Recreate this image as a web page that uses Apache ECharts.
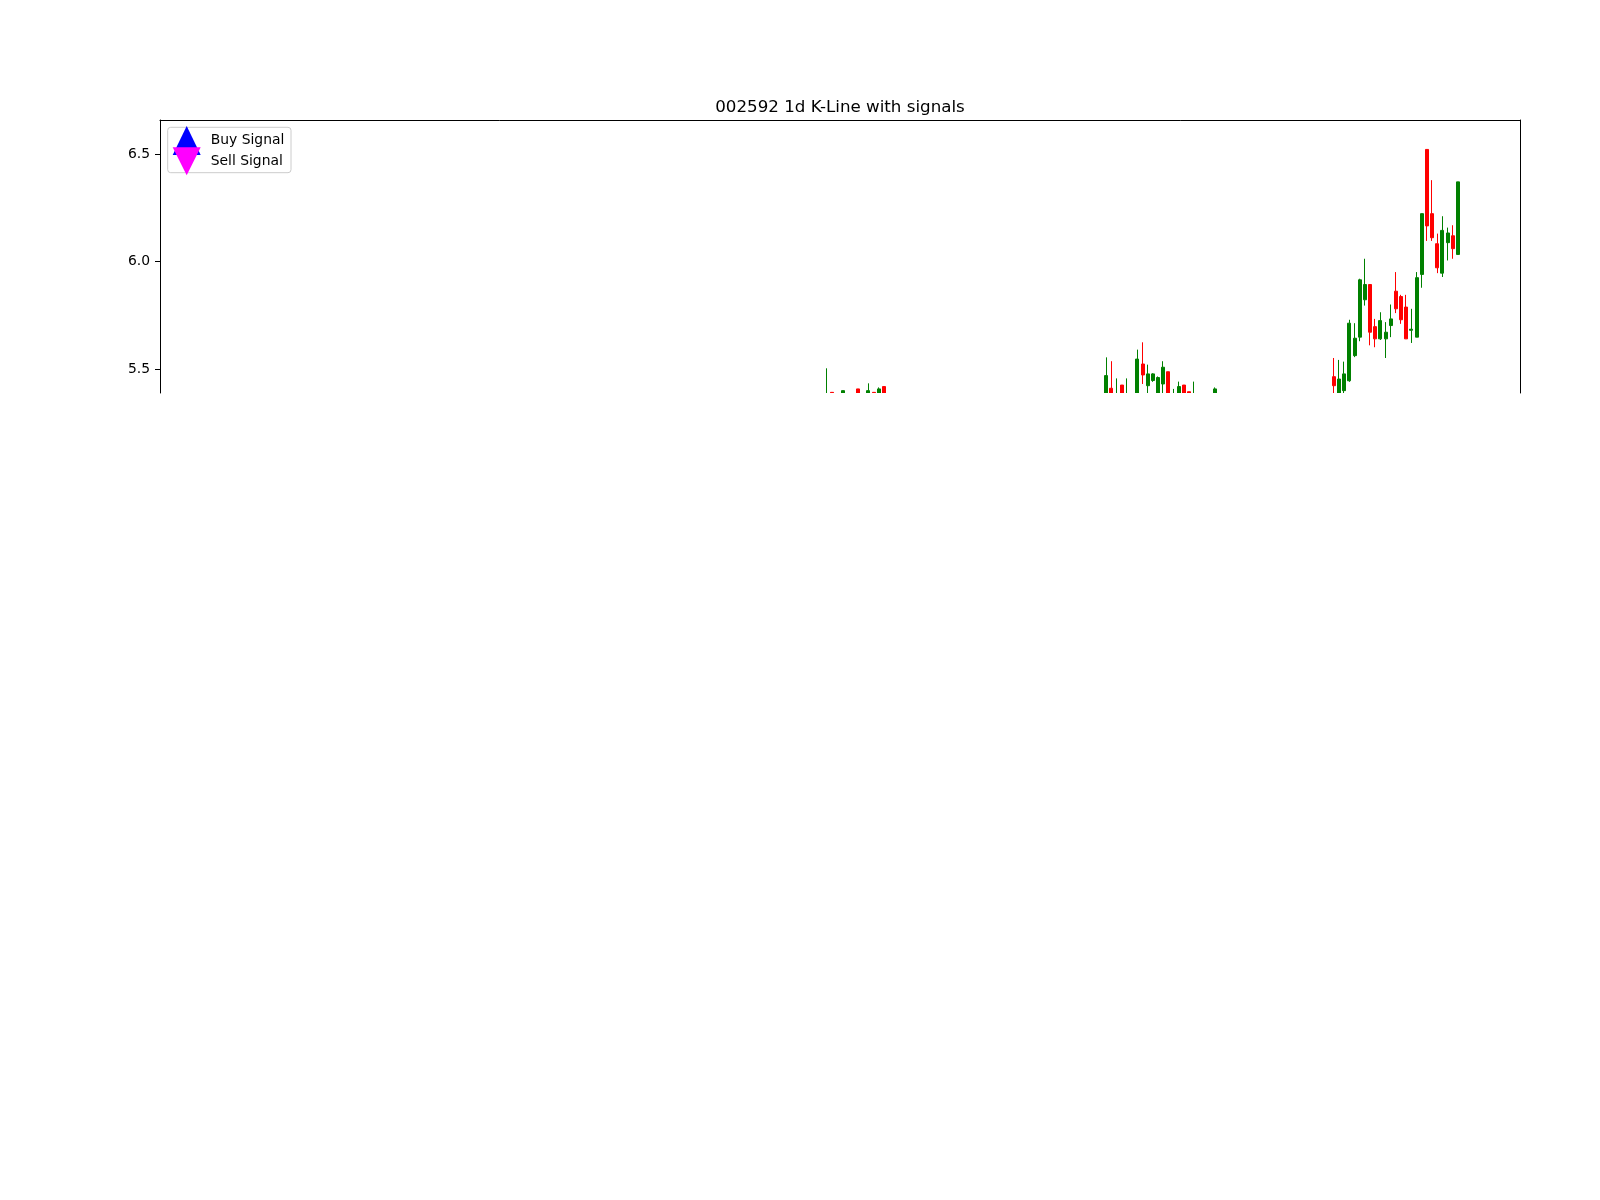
<!DOCTYPE html>
<html>
<head>
<meta charset="utf-8">
<title>002592 1d K-Line with signals</title>
<script src="https://cdn.jsdelivr.net/npm/echarts@6/dist/echarts.min.js"></script>
<style>
	html, body { margin: 0; padding: 0; background: #ffffff; }
	#main { width: 1600px; height: 1200px; }
</style>
</head>
<body>
<div id="main"></div>
<script>
	// data (only the candles that show above the cut are known)
	var totalDays = 240;
	var dayIndex = [117, 118, 120, 123, 125, 126, 127, 128,
		171, 172, 173, 174, 175, 177, 178, 179, 180, 181, 182, 183, 184, 185, 186, 187, 188, 192,
		215, 216, 217, 218, 219, 220, 221, 222, 223, 224, 225, 226, 227, 228, 229, 230, 231, 232, 233, 234, 235, 236, 237, 238, 239];
	var openPrice = [5.35, 5.391, 5.37, 5.407, 5.37, 5.391, 5.37, 5.418,
		5.37, 5.410, 5.34, 5.425, 5.34, 5.37, 5.523, 5.422, 5.446, 5.37, 5.430, 5.487, 5.35, 5.37, 5.425, 5.394, 5.34, 5.37,
		5.464, 5.37, 5.399, 5.445, 5.562, 5.648, 5.822, 5.893, 5.697, 5.640, 5.640, 5.702, 5.862, 5.837, 5.788, 5.680, 5.648, 5.940, 6.522, 6.223, 6.083, 5.946, 6.088, 6.120, 6.033];
	var closePrice = [5.37, 5.37, 5.399, 5.37, 5.399, 5.37, 5.407, 5.37,
		5.469, 5.37, 5.37, 5.37, 5.37, 5.546, 5.472, 5.477, 5.477, 5.460, 5.508, 5.37, 5.37, 5.418, 5.37, 5.37, 5.36, 5.407,
		5.422, 5.453, 5.477, 5.713, 5.643, 5.915, 5.893, 5.671, 5.640, 5.725, 5.671, 5.733, 5.780, 5.729, 5.640, 5.685, 5.925, 6.223, 6.166, 6.111, 5.971, 6.145, 6.133, 6.060, 6.371];
	var lowPrice = [5.33, 5.36, 5.36, 5.36, 5.36, 5.36, 5.36, 5.36,
		5.36, 5.35, 5.33, 5.36, 5.33, 5.36, 5.430, 5.38, 5.44, 5.36, 5.38, 5.36, 5.34, 5.36, 5.36, 5.36, 5.33, 5.36,
		5.37, 5.35, 5.37, 5.44, 5.555, 5.629, 5.795, 5.610, 5.601, 5.635, 5.551, 5.648, 5.760, 5.710, 5.640, 5.621, 5.648, 5.878, 6.096, 6.096, 5.946, 5.928, 6.005, 6.013, 6.033];
	var highPrice = [5.503, 5.391, 5.399, 5.407, 5.433, 5.391, 5.414, 5.418,
		5.554, 5.536, 5.456, 5.425, 5.456, 5.590, 5.624, 5.520, 5.480, 5.465, 5.536, 5.487, 5.407, 5.441, 5.425, 5.394, 5.441, 5.414,
		5.551, 5.542, 5.534, 5.729, 5.713, 5.920, 6.013, 5.895, 5.733, 5.764, 5.718, 5.800, 5.951, 5.845, 5.845, 5.780, 5.951, 6.223, 6.522, 6.379, 6.130, 6.211, 6.158, 6.169, 6.371];
	var yTicks = [5.5, 6.0, 6.5];
	var legendNames = ['Buy Signal', 'Sell Signal'];

	var font = 'DejaVu Sans';
	var pad = 12; // matplotlib keeps 5% empty on each side of the x range

	// category list with the side margin, and the candle rows
	var categories = [];
	var candles = [];
	for (var k = -pad; k < totalDays + pad; k++) {
		categories.push(String(k));
		var pos = dayIndex.indexOf(k);
		if (pos < 0) {
			candles.push(['-', '-', '-', '-']);
		} else {
			candles.push([openPrice[pos], closePrice[pos], lowPrice[pos], highPrice[pos]]);
		}
	}

	var myChart = echarts.init(document.getElementById('main'), null, { renderer: 'canvas' });

	var option = {
		backgroundColor: '#ffffff',
		animation: false,
		title: {
			text: '002592 1d K-Line with signals',
			left: 840,
			top: 99,
			padding: 0,
			textAlign: 'center',
			textStyle: { fontFamily: font, fontSize: 16.7, fontWeight: 'normal', color: '#000000' }
		},
		legend: {
			orient: 'vertical',
			left: 172.7,
			top: 126,
			padding: 0,
			itemWidth: 28,
			itemHeight: 29,
			itemGap: -7.8,
			data: [
				{ name: legendNames[0], icon: 'triangle' },
				{ name: legendNames[1], icon: 'path://M0,0L10,0L5,10Z' }
			],
			textStyle: { fontFamily: font, fontSize: 13.9, color: '#000000', padding: [0, 0, 6, 5] }
		},
		graphic: [{
			// legend frame
			type: 'rect',
			z: 3,
			shape: { x: 167.7, y: 127.3, width: 123.3, height: 45.4, r: 3 },
			style: { fill: 'rgba(255,255,255,0.8)', stroke: '#cccccc', lineWidth: 1 }
		}, {
			// the picture is cut off under the plot top part; candles stop there too
			type: 'rect',
			z: 50,
			shape: { x: 161, y: 393, width: 1358, height: 807 },
			style: { fill: '#ffffff' }
		}],
		grid: {
			left: 160,
			right: 80,
			top: 120,
			bottom: 807
		},
		xAxis: {
			type: 'category',
			position: 'top',
			boundaryGap: false,
			data: categories,
			axisLine: { lineStyle: { color: '#000000', width: 1 } },
			axisTick: { show: false },
			axisLabel: { show: false },
			splitLine: { show: false }
		},
		yAxis: [{
			type: 'value',
			position: 'left',
			min: 5.388,
			max: 6.659,
			axisLine: { show: true, lineStyle: { color: '#000000', width: 1 } },
			axisTick: { show: true, length: 5, customValues: yTicks, lineStyle: { color: '#000000' } },
			axisLabel: {
				customValues: yTicks,
				margin: 10,
				fontFamily: font,
				fontSize: 13.9,
				color: '#000000',
				formatter: function(v) { return v.toFixed(1); }
			},
			splitLine: { show: false }
		}, {
			type: 'value',
			position: 'right',
			min: 5.388,
			max: 6.659,
			axisLine: { show: true, lineStyle: { color: '#000000', width: 1 } },
			axisTick: { show: false },
			axisLabel: { show: false },
			splitLine: { show: false }
		}],
		series: [{
			name: 'K',
			type: 'candlestick',
			clip: true,
			barWidth: 3.5,
			data: candles,
			itemStyle: {
				color: '#008000',
				color0: '#ff0000',
				borderColor: '#008000',
				borderColor0: '#ff0000',
				borderWidth: 1
			}
		}, {
			name: legendNames[0],
			type: 'scatter',
			symbol: 'triangle',
			itemStyle: { color: '#0000ff', opacity: 1 },
			data: []
		}, {
			name: legendNames[1],
			type: 'scatter',
			symbol: 'path://M0,0L10,0L5,10Z',
			itemStyle: { color: '#ff00ff', opacity: 1 },
			data: []
		}]
	};

	myChart.setOption(option);
</script>
</body>
</html>
